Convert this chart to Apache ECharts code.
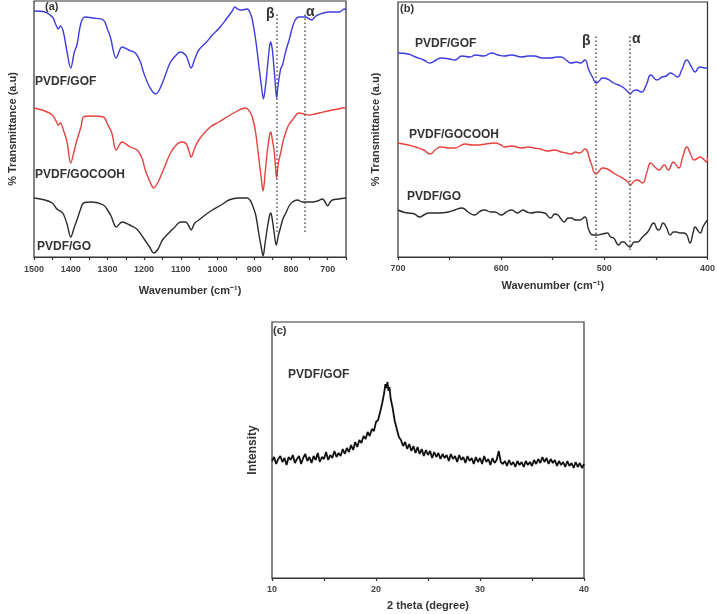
<!DOCTYPE html>
<html><head><meta charset="utf-8">
<script src="https://cdn.jsdelivr.net/npm/echarts@6/dist/echarts.min.js"></script>
<style>html,body{margin:0;padding:0;background:#fff}#c{width:718px;height:614px}</style>
</head><body><div id="c"></div>
<script>
// ---------- Panel (a): FTIR 1500-650 cm-1, offset spectra (arbitrary units) ----------
const a_GOF = [[1500,246],[1470,245],[1450,240],[1440,232],[1434,228],[1428,231],[1420,225],[1410,205],[1400,189],[1390,205],[1383,212],[1372,234],[1361,240],[1340,239],[1311,237],[1300,228],[1292,220],[1276,199],[1260,210],[1242,207],[1224,204],[1210,195],[1201,184],[1185,170],[1169,163],[1160,166],[1147,177],[1128,195],[1110,203],[1101,205],[1087,202],[1080,196],[1072,189],[1062,198],[1051,207],[1030,215],[1014,222],[995,229],[978,237],[960,246],[953,250],[945,248],[937,247],[919,248],[910,243],[905,237],[896,217],[887,190],[880,170],[875,158],[869,172],[864,190],[858,211],[855,215],[851,208],[848,197],[843,175],[839,159],[835,172],[828,188],[823,192],[814,206],[805,217],[791,235],[778,240],[760,240],[750,238],[743,237],[735,240],[727,242],[696,245],[668,245],[655,248],[650,247]];
const a_GOCOOH = [[1500,149],[1470,146],[1450,142],[1440,136],[1434,132],[1428,134],[1420,127],[1410,115],[1400,94],[1390,107],[1383,117],[1372,130],[1365,140],[1347,141],[1311,140],[1300,133],[1288,124],[1276,107],[1260,115],[1238,110],[1219,107],[1205,98],[1197,87],[1185,76],[1174,69],[1162,75],[1151,84],[1128,104],[1110,113],[1096,115],[1085,113],[1078,106],[1072,100],[1062,109],[1051,117],[1020,130],[996,135],[970,141],[951,145],[935,148],[923,149],[910,144],[903,137],[896,124],[887,97],[880,76],[876,66],[870,85],[864,107],[858,122],[855,125],[851,118],[846,107],[842,90],[839,79],[834,95],[828,104],[822,115],[814,125],[805,133],[796,137],[778,144],[765,143],[750,142],[735,143],[723,144],[700,146],[687,147],[670,148],[660,149],[650,149]];
const a_GO = [[1500,59],[1470,57],[1450,54],[1440,49],[1434,47],[1428,46],[1420,43],[1410,33],[1400,20],[1390,30],[1383,37],[1372,49],[1365,54],[1342,55],[1311,52],[1300,47],[1290,41],[1276,30],[1260,35],[1240,32],[1220,28],[1200,18],[1185,10],[1174,4],[1162,8],[1150,17],[1130,25],[1119,29],[1100,35],[1087,35],[1078,31],[1072,27],[1062,34],[1051,37],[1030,43],[1014,47],[990,52],[969,57],[942,59],[919,59],[910,56],[905,52],[896,42],[887,22],[880,8],[876,1],[870,15],[864,30],[858,42],[855,44],[851,38],[846,25],[840,12],[834,22],[828,30],[822,38],[814,44],[805,51],[796,55],[782,57],[769,55],[755,55],[741,55],[728,56],[714,58],[707,55],[700,51],[693,55],[687,57],[670,58],[650,59]];
const a_markers = [{name:'β', wn:840}, {name:'α', wn:762}];
const a_ticks = [700,800,900,1000,1100,1200,1300,1400,1500];

// ---------- Panel (b): FTIR 700-400 cm-1 ----------
const b_GOF = [[700,204],[690,203],[683,200],[675,197],[669,194],[663,197],[658,199],[650,198],[645,197],[638,201],[630,200],[625,202],[617,201],[609,204],[603,202],[597,201],[590,202],[580,200],[574,201],[568,201],[560,199],[552,199],[546,200],[542,200],[537,197],[532,194],[527,195],[523,194],[519,197],[515,187],[511,179],[508,174],[505,176],[502,179],[497,178],[491,174],[486,172],[481,169],[477,165],[475,163],[472,166],[469,167],[464,165],[459,173],[455,182],[449,177],[444,180],[440,181],[436,184],[432,182],[429,180],[425,187],[420,197],[416,191],[412,185],[409,189],[407,190],[403,189],[400,189]];
const b_GOCOOH = [[700,114],[690,112],[683,110],[675,107],[669,103],[663,108],[658,110],[650,109],[645,109],[635,113],[628,112],[622,112],[615,113],[606,114],[600,112],[597,110],[590,111],[580,109],[574,110],[568,109],[562,108],[555,106],[548,107],[542,105],[537,104],[532,103],[528,105],[524,104],[519,108],[513,94],[508,83],[505,86],[502,89],[497,88],[491,84],[486,81],[481,78],[477,75],[475,72],[471,76],[468,77],[463,74],[459,84],[455,94],[451,90],[447,87],[442,92],[438,87],[433,95],[428,89],[424,100],[420,110],[416,102],[413,97],[409,99],[407,100],[403,97],[401,95],[400,100]];
const b_GO = [[700,47],[695,45],[690,44],[684,43],[679,40],[675,42],[670,44],[660,44],[651,45],[645,47],[638,49],[632,45],[626,42],[620,46],[616,47],[610,45],[606,45],[600,42],[595,45],[590,47],[584,44],[579,47],[575,45],[571,44],[565,45],[558,44],[552,39],[548,43],[545,42],[542,38],[539,35],[535,39],[532,39],[528,37],[524,37],[519,40],[515,27],[511,22],[507,22],[502,23],[497,24],[494,20],[491,19],[486,12],[483,15],[481,15],[478,12],[475,10],[471,15],[468,15],[463,20],[458,25],[452,34],[449,28],[447,27],[443,34],[440,30],[436,22],[433,25],[430,25],[427,24],[423,24],[420,22],[417,14],[414,24],[412,30],[409,26],[407,24],[404,31],[400,37]];
const b_markers = [{name:'β', wn:508}, {name:'α', wn:475}];
const b_ticks = [400,500,600,700];

// ---------- Panel (c): XRD of PVDF/GOF (2θ, intensity a.u.) ----------
const c_XRD = [[10,117],[10.2,121],[10.4,114],[10.6,119],[10.8,122],[11,116],[11.2,120],[11.4,113],[11.6,121],[11.8,118],[12,123],[12.2,115],[12.4,119],[12.6,122],[12.8,114],[13,120],[13.2,124],[13.4,117],[13.6,121],[13.8,115],[14,122],[14.2,118],[14.4,125],[14.6,116],[14.8,121],[15,119],[15.2,126],[15.4,118],[15.6,123],[15.8,120],[16,127],[16.2,121],[16.4,125],[16.6,122],[16.8,129],[17,124],[17.2,130],[17.4,126],[17.6,133],[17.8,128],[18,136],[18.2,131],[18.4,138],[18.6,135],[18.8,142],[19,139],[19.2,146],[19.4,142],[19.6,149],[19.8,147],[20,156],[20.2,158],[20.4,166],[20.6,175],[20.8,186],[20.9,194],[21,190],[21.1,196],[21.2,187],[21.3,191],[21.4,180],[21.6,170],[21.8,157],[22,149],[22.2,141],[22.4,138],[22.6,132],[22.8,136],[23,129],[23.2,134],[23.4,127],[23.6,132],[23.8,125],[24,131],[24.2,124],[24.4,129],[24.6,122],[24.8,128],[25,123],[25.2,127],[25.4,120],[25.6,126],[25.8,121],[26,125],[26.2,119],[26.4,124],[26.6,120],[26.8,123],[27,117],[27.2,124],[27.4,119],[27.6,122],[27.8,116],[28,123],[28.2,118],[28.4,121],[28.6,115],[28.8,122],[29,117],[29.2,120],[29.4,114],[29.6,121],[29.8,116],[30,120],[30.2,114],[30.4,122],[30.6,116],[30.8,119],[31,113],[31.2,120],[31.4,115],[31.6,118],[31.8,127],[32,116],[32.2,114],[32.4,117],[32.6,112],[32.8,118],[33,113],[33.2,116],[33.4,111],[33.6,117],[33.8,113],[34,116],[34.2,111],[34.4,117],[34.6,113],[34.8,116],[35,112],[35.2,118],[35.4,114],[35.6,119],[35.8,115],[36,121],[36.2,116],[36.4,120],[36.6,114],[36.8,119],[37,115],[37.2,118],[37.4,112],[37.6,117],[37.8,113],[38,116],[38.2,111],[38.4,117],[38.6,112],[38.8,115],[39,110],[39.2,116],[39.4,111],[39.6,115],[39.8,110],[40,114]];
const c_ticks = [10,20,30,40];

// ---------- styling ----------
const FONT = "'Liberation Sans', Arial, sans-serif";
const AX = '#333';
const BLUE = '#3c3ce0', RED = '#e8403f', BLACK = '#2b2b2b';

function xAx(gi, min, max, interval, inverse, ticks, name, nameGap, margin, minor) {
  return {
    gridIndex: gi, type: 'value', min: min, max: max, interval: interval, inverse: inverse,
    axisLine: {show: true, onZero: false, lineStyle: {color: AX, width: 1.2}},
    axisTick: {show: true, inside: false, length: 3, lineStyle: {color: AX, width: 1.2}},
    minorTick: minor ? {show: true, splitNumber: 2, length: 3, lineStyle: {color: AX, width: 1.2}} : {show: false},
    axisLabel: {fontSize: 9, fontWeight: 'bold', color: '#444', fontFamily: FONT, margin: margin,
      formatter: v => ticks.indexOf(v) >= 0 ? String(v) : ''},
    splitLine: {show: false},
    name: name, nameLocation: 'middle', nameGap: nameGap,
    nameTextStyle: {fontSize: 11, fontWeight: 'bold', color: AX, fontFamily: FONT}
  };
}
function yAx(gi, max, name, nameGap, fs) {
  return {
    gridIndex: gi, type: 'value', min: 0, max: max,
    axisLine: {show: false}, axisTick: {show: false}, axisLabel: {show: false}, splitLine: {show: false},
    name: name, nameLocation: 'middle', nameGap: nameGap, nameRotate: 90,
    nameTextStyle: {fontSize: fs, fontWeight: 'bold', color: AX, fontFamily: FONT}
  };
}
function dotted(markers, lo, hi) {
  return {
    silent: true, symbol: ['none', 'none'], label: {show: false},
    lineStyle: {color: '#555', type: [1.5, 2.5], width: 1.5},
    data: markers.map(m => [{coord: [m.wn, lo]}, {coord: [m.wn, hi]}])
  };
}
function line(gi, data, color, extra) {
  return Object.assign({
    type: 'line', xAxisIndex: gi, yAxisIndex: gi, data: data, showSymbol: false, symbol: 'none',
    smooth: 0.35, lineStyle: {color: color, width: 1.4}, itemStyle: {color: color}, animation: false
  }, extra || {});
}
function txt(x, y, s, size, color) {
  return {type: 'text', x: x, y: y, silent: true,
    style: {text: s, font: 'bold ' + size + 'px ' + FONT, fill: color || '#333', verticalAlign: 'middle'}};
}

const gridBase = {show: true, borderColor: AX, borderWidth: 1.2, backgroundColor: 'transparent', containLabel: false};
const option = {
  animation: false,
  backgroundColor: '#fff',
  grid: [
    Object.assign({left: 34, top: 1, width: 312, height: 256}, gridBase),
    Object.assign({left: 398, top: 2, width: 311, height: 255}, gridBase),
    Object.assign({left: 272, top: 322, width: 312, height: 256}, gridBase)
  ],
  xAxis: [
    xAx(0, 650, 1500, 50, true, a_ticks, 'Wavenumber (cm⁻¹)', 28, 8, false),
    xAx(1, 400, 700, 50, true, b_ticks, 'Wavenumber (cm⁻¹)', 23, 7, false),
    xAx(2, 10, 40, 10, false, c_ticks, '2 theta (degree)', 22, 7, true)
  ],
  yAxis: [
    yAx(0, 256, '% Transmittance (a.u)', 16, 11),
    yAx(1, 255, '% Transmittance (a.u)', 17, 11),
    yAx(2, 256, 'Intensity', 13, 12)
  ],
  series: [
    line(0, a_GOF, BLUE, {markLine: dotted(a_markers, 25, 245)}),
    line(0, a_GOCOOH, RED),
    line(0, a_GO, BLACK),
    line(1, b_GOF, BLUE, {smooth: 0.5, markLine: dotted(b_markers, 7, 222)}),
    line(1, b_GOCOOH, RED, {smooth: 0.5}),
    line(1, b_GO, BLACK, {smooth: 0.5}),
    line(2, c_XRD, '#111', {smooth: false, lineStyle: {color: '#111', width: 1.8}})
  ],
  graphic: [
    txt(45, 7, '(a)', 11), txt(266, 14, 'β', 14), txt(306, 12, 'α', 14),
    txt(35, 82, 'PVDF/GOF', 12), txt(35, 175, 'PVDF/GOCOOH', 12), txt(37, 247, 'PVDF/GO', 12),
    txt(400, 9, '(b)', 11), txt(582, 41, 'β', 14), txt(632, 39, 'α', 14),
    txt(415, 44, 'PVDF/GOF', 12), txt(409, 135, 'PVDF/GOCOOH', 12), txt(407, 197, 'PVDF/GO', 12),
    txt(273, 331, '(c)', 11), txt(288, 375, 'PVDF/GOF', 12)
  ]
};
const chart = echarts.init(document.getElementById('c'), null, {renderer: 'canvas'});
chart.setOption(option);
</script></body></html>
